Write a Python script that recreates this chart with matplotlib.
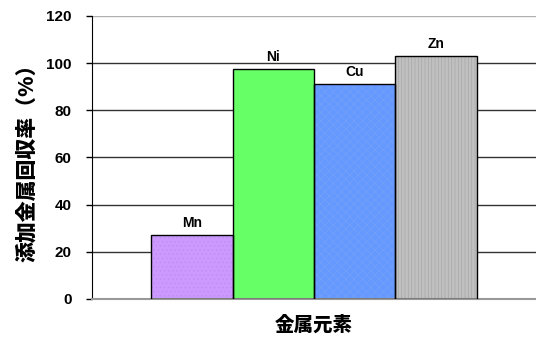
import matplotlib.pyplot as plt

plt.rcParams['font.family'] = ['Liberation Sans', 'Noto Sans CJK JP', 'DejaVu Sans']

# 金属元素ごとの回収率
elements = ['Mn', 'Ni', 'Cu', 'Zn']
recovery = [27, 97.5, 91, 103]
face_colors = ['#cc99ff', '#66ff66', '#6699ff', '#c0c0c0']
hatch_colors = ['#bf8ef0', '#66ff66', '#73a1f8', '#a8a8a8']
hatches = ['....', '', 'xxxx', '|||||']
y_ticks = [0, 20, 40, 60, 80, 100, 120]

fig = plt.figure(figsize=(5.36, 3.38), dpi=100)
ax = fig.add_axes([0.1716, 0.1154, 0.8284, 0.8373])

x = list(range(len(elements)))

# グリッド線
for t in y_ticks[1:]:
    ax.axhline(t, color='#b0b0b0' if t == 120 else '#333333', lw=1.0, zorder=0)

# 棒（塗り＋模様）
plt.rcParams['hatch.linewidth'] = 0.5
for xi, v, fc, hc, h in zip(x, recovery, face_colors, hatch_colors, hatches):
    ax.bar(xi, v, width=1.0, color=fc, edgecolor=hc, hatch=h, linewidth=0, zorder=2)
ax.bar(x, recovery, width=1.0, fill=False, edgecolor='black', linewidth=1.0, zorder=3)

# 棒の上のラベル
for xi, v, name in zip(x, recovery, elements):
    ax.text(xi, v + 2.3, name, ha='center', va='bottom', fontsize=10, fontweight='bold')

ax.set_xlim(-1.227, 4.227)
ax.set_ylim(0, 120)
ax.set_yticks(y_ticks)
ax.set_xticks([])
ax.tick_params(axis='y', direction='out', length=4, width=1, labelsize=11, pad=10.5)
for lbl in ax.get_yticklabels():
    lbl.set_fontweight('bold')

ax.spines['top'].set_visible(False)
ax.spines['right'].set_visible(False)
ax.spines['left'].set_color('black')
ax.spines['bottom'].set_color('#999999')
ax.spines['bottom'].set_linewidth(1.5)

ax.set_ylabel('添加金属回収率（%）', fontsize=15, fontweight='heavy', labelpad=7,
              family=['Noto Sans CJK JP', 'DejaVu Sans'])
ax.set_xlabel('金属元素', fontsize=14, fontweight='heavy', labelpad=12,
              family=['Noto Sans CJK JP', 'DejaVu Sans'])

fig.savefig('out.png', dpi=100)
